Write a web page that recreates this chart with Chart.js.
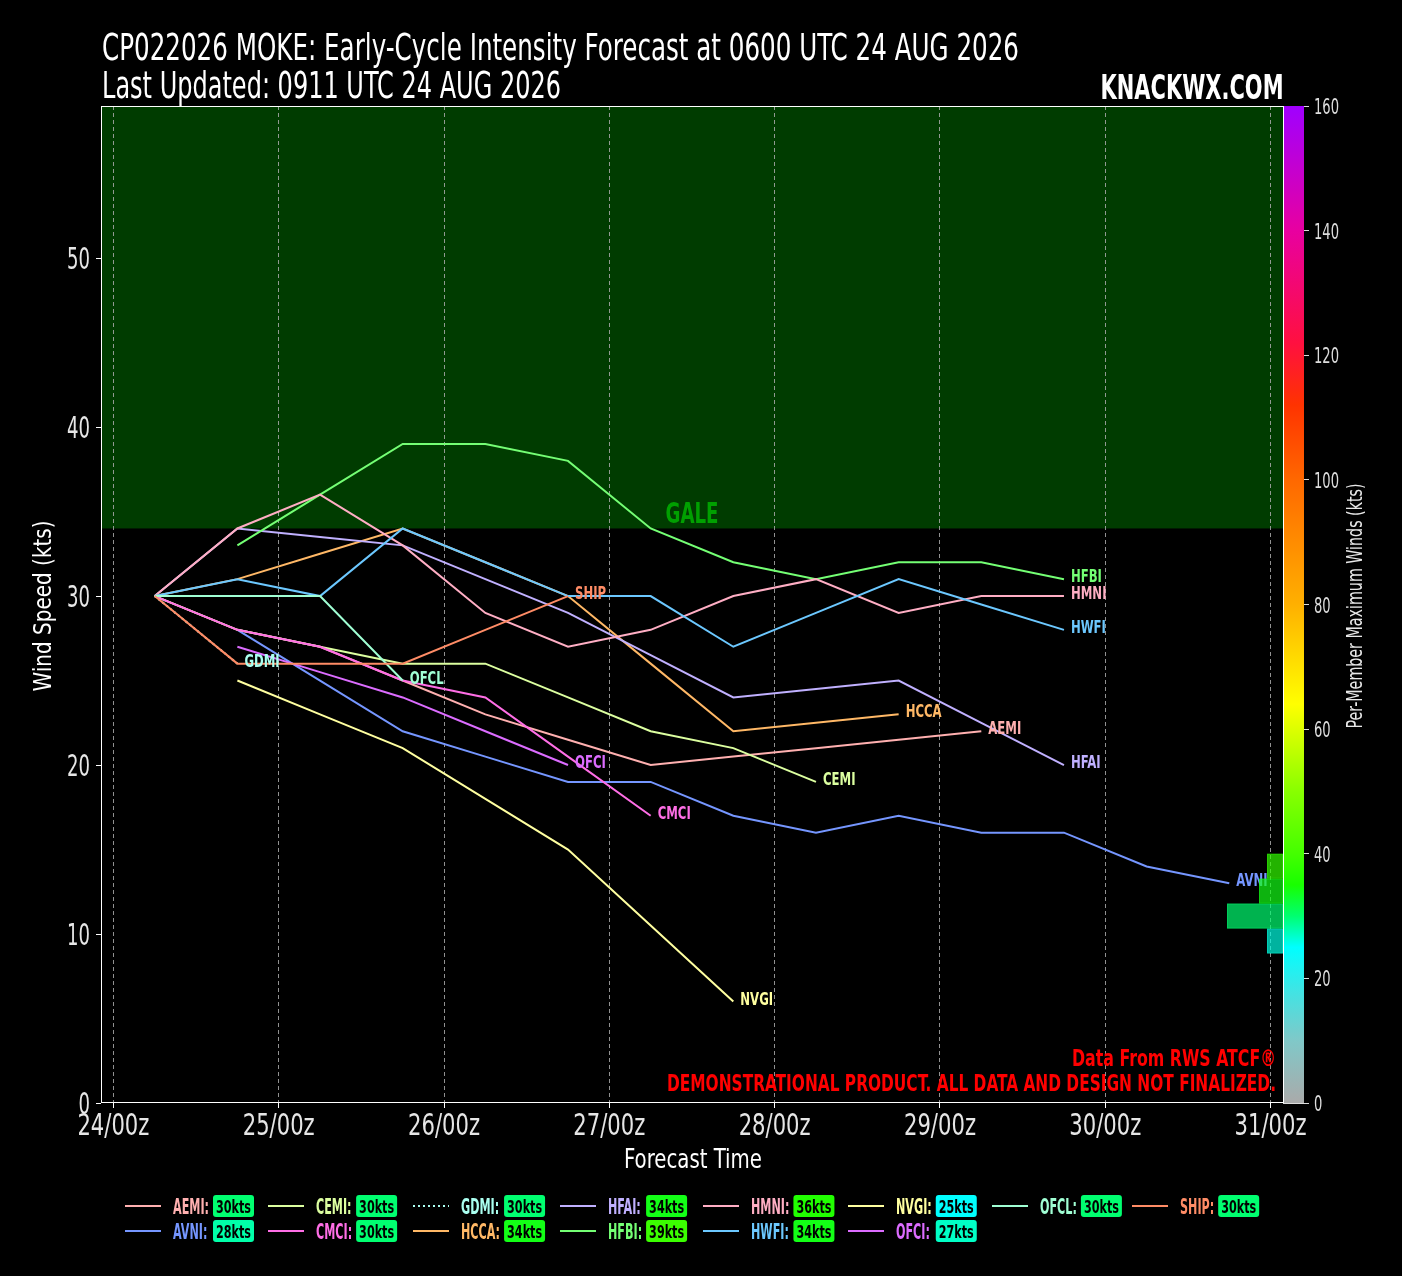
<!DOCTYPE html>
<html lang="en">
<head>
<meta charset="UTF-8" />
<title>CP022026 MOKE Early-Cycle Intensity Forecast</title>
<script src="https://cdn.jsdelivr.net/npm/chart.js@4"></script>
<style>
  html, body { margin: 0; padding: 0; background: #000; }
  canvas { display: block; }
</style>
</head>
<body>
<canvas id="chart" width="1402" height="1276"></canvas>
<script>
// forecast hours counted from 24/00z (model init is 0600 UTC 24 AUG)
const hours = [6, 18, 30, 42, 54, 66, 78, 90, 102, 114, 126, 138, 150, 162];
const tickHours = [0, 24, 48, 72, 96, 120, 144, 168];
const tickLabels = ["24/00z", "25/00z", "26/00z", "27/00z", "28/00z", "29/00z", "30/00z", "31/00z"];
const windTicks = [0, 10, 20, 30, 40, 50];
const barTicks = [0, 20, 40, 60, 80, 100, 120, 140, 160];
const galeKts = 34;

// early-cycle guidance, wind speed in kts at each hour above
const models = ["AEMI", "AVNI", "CEMI", "CMCI", "GDMI", "HCCA", "HFAI",
                "HFBI", "HMNI", "HWFI", "NVGI", "OFCI", "OFCL", "SHIP"];
const AEMI = [30, 28, 27, 25, 23, 21.5, 20, 20.5, 21, 21.5, 22];
const AVNI = [null, 28, 25, 22, 20.5, 19, 19, 17, 16, 17, 16, 16, 14, 13];
const CEMI = [30, 28, 27, 26, 26, 24, 22, 21, 19];
const CMCI = [30, 28, 27, 25, 24, 20.5, 17];
const GDMI = [30, 26];
const HCCA = [30, 31, 32.5, 34, 32, 30, 26, 22, 22.5, 23];
const HFAI = [30, 34, 33.5, 33, 31, 29, 26.5, 24, 24.5, 25, 22.5, 20];
const HFBI = [null, 33, 36, 39, 39, 38, 34, 32, 31, 32, 32, 31];
const HMNI = [30, 34, 36, 33, 29, 27, 28, 30, 31, 29, 30, 30];
const HWFI = [30, 31, 30, 34, 32, 30, 30, 27, 29, 31, 29.5, 28];
const NVGI = [null, 25, 23, 21, 18, 15, 10.5, 6];
const OFCI = [null, 27, 25.5, 24, 22, 20];
const OFCL = [30, 30, 30, 25];
const SHIP = [30, 26, 26, 26, 28, 30];
const seriesValues = [AEMI, AVNI, CEMI, CMCI, GDMI, HCCA, HFAI, HFBI, HMNI, HWFI, NVGI, OFCI, OFCL, SHIP];

// histogram of per-member maximum winds (kts bins)
const histEdges = [24, 28, 32, 36, 40];

const modelColors = ["#ffb0b0", "#7596ff", "#dcffa0", "#ff6ee6", "#aafff0", "#ffb866", "#c0b0ff",
                     "#74ff74", "#ffaec4", "#6cc8ff", "#ffffa0", "#dc6cff", "#a0ffd4", "#ff8c66"];

const cmapStops = [[0, "#aaaaaa"], [10, "#80c8c8"], [18, "#40e4e4"], [25, "#00ffff"], [30, "#00ff70"],
  [35, "#18ff00"], [40, "#44ff00"], [50, "#88ff00"], [64, "#ffff00"], [80, "#ffb000"],
  [100, "#ff6800"], [112, "#ff3300"], [122, "#ff1040"], [140, "#e800a0"], [160, "#a000ff"]];

const FONT = "'Liberation Sans Narrow', 'DejaVu Sans Condensed', 'Arial Narrow', sans-serif";

function hexRgb(h) {
  return [1, 3, 5].map(i => parseInt(h.slice(i, i + 2), 16));
}
function cmap(v, a) {
  let i = 0;
  while (i < cmapStops.length - 2 && v > cmapStops[i + 1][0]) i++;
  const [v0, c0] = cmapStops[i], [v1, c1] = cmapStops[i + 1];
  const t = Math.max(0, Math.min(1, (v - v0) / (v1 - v0)));
  const a0 = hexRgb(c0), a1 = hexRgb(c1);
  const rgb = a0.map((c, k) => Math.round(c + (a1[k] - c) * t));
  return "rgba(" + rgb.join(",") + "," + (a === undefined ? 1 : a) + ")";
}

// draw text squeezed/stretched horizontally to a given width
function fitText(ctx, text, x, y, font, width, align, color, rot) {
  ctx.save();
  ctx.font = font;
  const sx = width ? width / ctx.measureText(text).width : 1;
  drawScaled(ctx, text, x, y, font, sx, align, color, rot);
  ctx.restore();
}
function drawScaled(ctx, text, x, y, font, sx, align, color, rot) {
  ctx.save();
  ctx.font = font;
  ctx.fillStyle = color;
  ctx.textAlign = align;
  ctx.textBaseline = "alphabetic";
  ctx.translate(x, y);
  if (rot) ctx.rotate(rot);
  ctx.scale(sx, 1);
  ctx.fillText(text, 0, 0);
  ctx.restore();
}
function squeeze(ctx, font, sample, width) {
  ctx.save();
  ctx.font = font;
  const s = width / ctx.measureText(sample).width;
  ctx.restore();
  return s;
}

const maxWinds = seriesValues.map(v => Math.max(...v.filter(d => d !== null)));
const histCounts = histEdges.slice(0, -1).map((lo, k) =>
  maxWinds.filter(m => m >= lo && (m < histEdges[k + 1] || (k === histEdges.length - 2 && m === histEdges[k + 1]))).length);

const legendCols = [125, 268, 413, 560, 703, 848, 992, 1132];
const legendRows = [1206, 1231];

const decorPlugin = {
  id: "decor",
  beforeDraw(chart) {
    const { ctx, chartArea: a } = chart;
    const y = chart.scales.y;
    ctx.save();
    ctx.fillStyle = "#000";
    ctx.fillRect(0, 0, chart.width, chart.height);
    const gy = y.getPixelForValue(galeKts);
    ctx.fillStyle = "#003c00";
    ctx.fillRect(a.left, a.top, a.right - a.left, gy - a.top);
    fitText(ctx, "GALE", (a.left + a.right) / 2, gy - 5, "bold 28px " + FONT, 53, "center", "#00a000");
    ctx.restore();
  },
  afterDatasetsDraw(chart) {
    const ctx = chart.ctx;
    ctx.save();
    // end-of-line labels
    const lf = "bold 18px " + FONT;
    const sx = squeeze(ctx, lf, "HFBI", 31);
    chart.data.datasets.forEach((ds, i) => {
      const meta = chart.getDatasetMeta(i);
      let k = ds.data.length - 1;
      while (k >= 0 && ds.data[k].y === null) k--;
      const el = meta.data[k];
      drawScaled(ctx, ds.label, el.x + 7, el.y + 3, lf, sx, "left", ds.borderColor);
    });
    // histogram of maximum winds against the colour bar scale
    const y2 = chart.scales.y2, xh = chart.scales.xh;
    histCounts.forEach((c, k) => {
      if (!c) return;
      const lo = histEdges[k], hi = histEdges[k + 1];
      const yt = y2.getPixelForValue(hi), yb = y2.getPixelForValue(lo);
      const x0 = xh.getPixelForValue(c), x1 = xh.getPixelForValue(0);
      ctx.fillStyle = cmap((lo + hi) / 2, 0.7);
      ctx.fillRect(x0, yt, x1 - x0, yb - yt);
      ctx.strokeStyle = cmap((lo + hi) / 2, 0.35);
      ctx.lineWidth = 1;
      ctx.strokeRect(x0 + 0.5, yt + 0.5, x1 - x0 - 1, yb - yt - 1);
    });
    ctx.restore();
  },
  afterDraw(chart) {
    const { ctx, chartArea: a } = chart;
    const { x, y, y2 } = chart.scales;
    ctx.save();
    // colour bar
    const top = y2.getPixelForValue(160), bot = y2.getPixelForValue(0);
    const g = ctx.createLinearGradient(0, bot, 0, top);
    cmapStops.forEach(([v, c]) => g.addColorStop(v / 160, c));
    ctx.fillStyle = g;
    ctx.fillRect(a.right + 1, top, 20, bot - top);
    // frame
    ctx.strokeStyle = "#ffffff";
    ctx.lineWidth = 1;
    ctx.strokeRect(Math.floor(a.left) + 0.5, Math.floor(a.top) + 0.5,
      Math.floor(a.right) - Math.floor(a.left), Math.floor(a.bottom) - Math.floor(a.top) - 1);

    // tick labels (narrow face)
    const tf = "30px " + FONT;
    const xs = squeeze(ctx, tf, "24/00z", 72);
    x.ticks.forEach((t, i) => {
      drawScaled(ctx, tickLabels[tickHours.indexOf(t.value)], x.getPixelForTick(i), a.bottom + 32, tf, xs, "center", "#e6e6e6");
    });
    const ys = squeeze(ctx, tf, "30", 23);
    y.ticks.forEach((t, i) => {
      drawScaled(ctx, String(t.value), a.left - 11, y.getPixelForTick(i) + 11, tf, ys, "right", "#e6e6e6");
    });
    const bf = "21.5px " + FONT;
    const bs = squeeze(ctx, bf, "100", 25);
    y2.ticks.forEach((t, i) => {
      drawScaled(ctx, String(t.value), a.right + 31, y2.getPixelForTick(i) + 8, bf, bs, "left", "#dddddd");
    });

    // titles
    fitText(ctx, "CP022026 MOKE: Early-Cycle Intensity Forecast at 0600 UTC 24 AUG 2026",
      102, 59.5, "38px " + FONT, 917, "left", "#ffffff");
    fitText(ctx, "Last Updated: 0911 UTC 24 AUG 2026", 102, 97.7, "38px " + FONT, 459, "left", "#ffffff");
    fitText(ctx, "KNACKWX.COM", 1283.5, 98.5, "bold 34px " + FONT, 183, "right", "#ffffff");
    fitText(ctx, "Wind Speed (kts)", 50.7, 606, "25px " + FONT, 171, "center", "#ffffff", -Math.PI / 2);
    fitText(ctx, "Forecast Time", 693, 1168, "27px " + FONT, 138, "center", "#ffffff");
    fitText(ctx, "Per-Member Maximum Winds (kts)", 1362, 606, "21px " + FONT, 245, "center", "#e8e8e8", -Math.PI / 2);
    fitText(ctx, "Data From RWS ATCF\u00ae", 1276, 1066, "bold 23px " + FONT, 204, "right", "#ff0000");
    fitText(ctx, "DEMONSTRATIONAL PRODUCT. ALL DATA AND DESIGN NOT FINALIZED.", 1276, 1090.7,
      "bold 23px " + FONT, 609, "right", "#ff0000");

    // legend with max-wind badges: 8 columns, filled column by column
    const nCols = legendCols.length;
    const nRows = Math.ceil(models.length / nCols);
    const full = models.length - (nRows - 1) * nCols; // columns holding nRows entries
    const slot = models.map((m, i) => {
      if (i < full * nRows) return [Math.floor(i / nRows), i % nRows];
      const j = i - full * nRows;
      return [full + Math.floor(j / (nRows - 1)), j % (nRows - 1)];
    });
    const lf = "bold 21px " + FONT;
    const lsx = squeeze(ctx, lf, "AEMI:", 36);
    ctx.font = lf;
    const colW = legendCols.map(() => 0);
    models.forEach((m, i) => {
      colW[slot[i][0]] = Math.max(colW[slot[i][0]], ctx.measureText(m + ":").width * lsx);
    });
    const bf2 = "bold 18px " + FONT;
    const bsx = squeeze(ctx, bf2, "30kts", 35);
    models.forEach((m, i) => {
      const [col, row] = slot[i];
      const x0 = legendCols[col], yc = legendRows[row];
      ctx.strokeStyle = modelColors[i];
      ctx.lineWidth = 2;
      ctx.setLineDash(m === "GDMI" ? [2, 3] : []);
      ctx.beginPath();
      ctx.moveTo(x0, yc);
      ctx.lineTo(x0 + 36, yc);
      ctx.stroke();
      ctx.setLineDash([]);
      drawScaled(ctx, m + ":", x0 + 48, yc + 7.5, lf, lsx, "left", modelColors[i]);
      const bx = x0 + 48 + colW[col] + 4;
      ctx.fillStyle = cmap(maxWinds[i]);
      ctx.beginPath();
      ctx.roundRect(bx, yc - 11, 41, 22, 3);
      ctx.fill();
      drawScaled(ctx, maxWinds[i] + "kts", bx + 20.5, yc + 7, bf2, bsx, "center", "#000000");
    });
    ctx.restore();
  }
};

new Chart(document.getElementById("chart"), {
  type: "line",
  data: {
    datasets: models.map((m, i) => ({
      label: m,
      data: hours.map((h, k) => ({ x: h, y: seriesValues[i][k] === undefined ? null : seriesValues[i][k] })),
      borderColor: modelColors[i],
      borderWidth: 2,
      borderDash: m === "GDMI" ? [2, 3] : [],
      pointRadius: 0,
      spanGaps: true,
      tension: 0,
      order: models.length - i
    }))
  },
  options: {
    responsive: false,
    animation: false,
    devicePixelRatio: 1,
    layout: { padding: { top: 106, left: 0, right: 0, bottom: 0 } },
    plugins: { legend: { display: false }, tooltip: { enabled: false }, title: { display: false } },
    scales: {
      x: {
        type: "linear",
        min: -1.8,
        max: 169.8,
        afterBuildTicks: s => { s.ticks = tickHours.map(v => ({ value: v })); },
        afterFit: s => { s.height = 173; },
        ticks: { display: false, autoSkip: false, maxRotation: 0 },
        grid: { color: "rgba(170,170,170,0.85)", lineWidth: 1, tickLength: 5, tickColor: "#ffffff" },
        border: { display: false, dash: [4, 3] }
      },
      y: {
        min: 0,
        max: 59,
        afterBuildTicks: s => { s.ticks = windTicks.map(v => ({ value: v })); },
        afterFit: s => { s.width = 101; },
        ticks: { display: false },
        grid: { drawOnChartArea: false, tickLength: 5, tickColor: "#ffffff" },
        border: { display: false }
      },
      y2: {
        position: "right",
        min: 0,
        max: 160,
        afterBuildTicks: s => { s.ticks = barTicks.map(v => ({ value: v })); },
        afterFit: s => { s.width = 119; },
        ticks: { display: false },
        grid: { drawOnChartArea: false, tickLength: 26, tickColor: "#dddddd" },
        border: { display: false }
      },
      xh: { type: "linear", display: false, min: 0, max: 147.75, reverse: true }
    }
  },
  plugins: [decorPlugin]
});
</script>
</body>
</html>
